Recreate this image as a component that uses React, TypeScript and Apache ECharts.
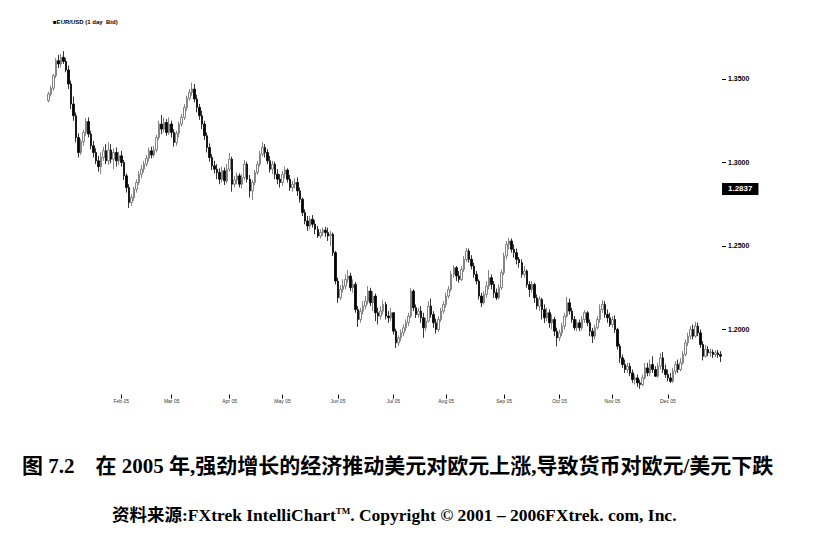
import React, { useEffect, useRef } from "react";
import * as echarts from "echarts";

// Daily EUR/USD bars, values in 1/10000 (13370 = 1.3370): [open, close, low, high]
const dec04 = [[13370,13410,13360,13425],[13410,13445,13395,13460],[13445,13520,13430,13530],[13520,13610,13505,13625],[13610,13590,13565,13645],[13590,13630,13570,13650],[13630,13605,13590,13667],[13605,13554,13540,13625]];
const jan05 = [[13554,13470,13440,13580],[13470,13350,13320,13490],[13350,13280,13250,13395],[13280,13150,13120,13300],[13150,13060,13030,13175],[13060,13125,13045,13140],[13125,13180,13100,13195],[13180,13245,13160,13265],[13245,13170,13150,13270],[13170,13100,13080,13190],[13100,13060,13030,13130],[13060,13010,12990,13085],[13010,12975,12945,13040],[12975,13030,12930,13060],[13030,13070,13010,13095],[13070,13010,12990,13110],[13010,13075,12985,13120],[13075,13020,12995,13110],[13020,13060,12960,13085],[13060,13010,12975,13090],[13010,13040,12985,13065]];
const feb05 = [[13040,13000,12975,13070],[13000,12920,12895,13015],[12920,12850,12820,12935],[12850,12760,12728,12870],[12760,12790,12740,12810],[12790,12840,12770,12855],[12840,12880,12820,12900],[12880,12930,12865,12950],[12930,12960,12905,12985],[12960,12990,12940,13010],[12990,13025,12975,13045],[13025,13070,13005,13090],[13070,13045,13025,13095],[13045,13075,13030,13100],[13075,13150,13060,13165],[13150,13230,13135,13250],[13230,13200,13170,13285],[13200,13240,13180,13270],[13240,13180,13160,13260],[13180,13230,13165,13270]];
const mar05 = [[13230,13180,13150,13250],[13180,13120,13095,13200],[13120,13175,13100,13190],[13175,13230,13150,13245],[13230,13270,13215,13290],[13270,13330,13255,13350],[13330,13385,13310,13400],[13385,13420,13370,13440],[13420,13440,13400,13478],[13440,13380,13360,13470],[13380,13330,13300,13405],[13330,13280,13255,13350],[13280,13230,13200,13310],[13230,13160,13135,13250],[13160,13090,13060,13180],[13090,13030,13005,13115],[13030,12980,12955,13050],[12980,12960,12935,13010],[12960,12940,12900,12990],[12940,12900,12870,12965],[12900,12950,12880,12975],[12950,12890,12865,12970],[12890,12960,12875,12990]];
const apr05 = [[12960,13020,12945,13057],[13020,12870,12825,13035],[12870,12895,12850,12920],[12895,12920,12870,12940],[12920,12870,12850,12935],[12870,12910,12845,12930],[12910,12990,12895,13015],[12990,12900,12880,13005],[12900,12830,12790,12925],[12830,12880,12775,12895],[12880,12940,12865,12955],[12940,12990,12925,13010],[12990,13050,12975,13070],[13050,13090,13035,13123],[13090,13060,13030,13110],[13060,13010,12990,13080],[13010,12960,12940,13040],[12960,12990,12930,13010],[12990,12930,12900,13005],[12930,12900,12870,12960],[12900,12880,12850,12930]];
const may05 = [[12880,12930,12860,12950],[12930,12955,12905,12975],[12955,12900,12880,12965],[12900,12850,12830,12925],[12850,12870,12825,12890],[12870,12880,12845,12905],[12880,12830,12800,12910],[12830,12780,12760,12850],[12780,12700,12680,12790],[12700,12650,12630,12720],[12650,12620,12590,12680],[12620,12660,12600,12680],[12660,12630,12610,12685],[12630,12600,12570,12655],[12600,12560,12548,12620],[12560,12580,12545,12600],[12580,12595,12560,12610],[12595,12580,12555,12614],[12580,12560,12530,12610],[12560,12570,12500,12590],[12570,12460,12440,12580],[12460,12290,12270,12470]];
const jun05 = [[12290,12190,12160,12310],[12190,12240,12175,12265],[12240,12260,12220,12300],[12260,12300,12240,12330],[12300,12320,12280,12356],[12320,12250,12230,12340],[12250,12270,12220,12300],[12270,12120,12100,12285],[12120,12060,12015,12140],[12060,12110,12040,12130],[12110,12140,12090,12170],[12140,12170,12120,12200],[12170,12230,12150,12260],[12230,12160,12140,12250],[12160,12200,12110,12230],[12200,12100,12050,12215],[12100,12080,12030,12130],[12080,12110,12060,12140],[12110,12150,12090,12175],[12150,12080,12060,12165],[12080,12070,12040,12110],[12070,12100,12050,12130]];
const jul05 = [[12100,11990,11970,12105],[11990,11920,11889,12005],[11920,11950,11900,11965],[11950,11980,11930,12000],[11980,12010,11960,12030],[12010,12040,11990,12060],[12040,12080,12020,12100],[12080,12230,12070,12249],[12230,12130,12110,12240],[12130,12090,12069,12150],[12090,12110,12070,12130],[12110,12070,12040,12140],[12070,12010,11950,12100],[12010,12050,11990,12070],[12050,12140,12040,12170],[12140,12090,12070,12185],[12090,12040,12010,12110],[12040,12000,11975,12065],[12000,12060,11985,12080],[12060,12110,12045,12130],[12110,12150,12095,12170]];
const aug05 = [[12150,12200,12130,12220],[12200,12240,12185,12260],[12240,12330,12225,12350],[12330,12370,12310,12385],[12370,12320,12290,12380],[12320,12300,12280,12350],[12300,12360,12290,12380],[12360,12420,12345,12440],[12420,12470,12405,12488],[12470,12420,12400,12485],[12420,12380,12360,12445],[12380,12330,12310,12400],[12330,12290,12270,12350],[12290,12200,12180,12300],[12200,12160,12134,12220],[12160,12210,12150,12230],[12210,12260,12190,12290],[12260,12310,12240,12356],[12310,12270,12240,12330],[12270,12220,12190,12290],[12220,12190,12177,12245],[12190,12250,12180,12270],[12250,12340,12235,12360]];
const sep05 = [[12340,12440,12325,12460],[12440,12510,12420,12530],[12510,12530,12480,12548],[12530,12480,12460,12545],[12480,12460,12430,12510],[12460,12420,12390,12485],[12420,12400,12370,12434],[12400,12330,12310,12420],[12330,12350,12310,12380],[12350,12270,12250,12360],[12270,12240,12195,12290],[12240,12270,12220,12290],[12270,12190,12160,12280],[12190,12140,12120,12210],[12140,12180,12110,12200],[12180,12120,12060,12190],[12120,12070,12039,12150],[12070,12100,12050,12130],[12100,12040,12010,12120],[12040,12060,12000,12090],[12060,11990,11960,12075],[11990,11950,11900,12010]];
const oct05 = [[11950,11980,11930,12000],[11980,12020,11960,12040],[12020,12080,12000,12100],[12080,12160,12070,12195],[12160,12110,12090,12185],[12110,12060,12040,12130],[12060,12010,11995,12080],[12010,12040,11990,12060],[12040,12010,11990,12060],[12010,12060,11995,12080],[12060,12100,12040,12116],[12100,12040,12020,12110],[12040,11990,11960,12060],[11990,11960,11919,12010],[11960,12010,11940,12030],[12010,12060,12000,12080],[12060,12120,12040,12150],[12120,12150,12100,12177],[12150,12090,12070,12170],[12090,12070,12040,12120],[12070,12030,12015,12100]];
const nov05 = [[12030,12060,12010,12080],[12060,12000,11980,12085],[12000,11900,11880,12010],[11900,11830,11800,11915],[11830,11790,11770,11850],[11790,11760,11740,11820],[11760,11780,11740,11800],[11780,11740,11720,11800],[11740,11700,11680,11760],[11700,11710,11670,11730],[11710,11680,11656,11730],[11680,11670,11645,11700],[11670,11710,11660,11730],[11710,11770,11700,11800],[11770,11740,11720,11800],[11740,11790,11720,11820],[11790,11760,11740,11840],[11760,11720,11715,11780],[11720,11780,11710,11800],[11780,11830,11760,11859],[11830,11760,11740,11865],[11760,11730,11710,11790]];
const dec05 = [[11730,11710,11690,11760],[11710,11690,11679,11740],[11690,11750,11680,11770],[11750,11790,11730,11810],[11790,11760,11740,11820],[11760,11800,11750,11830],[11800,11850,11790,11870],[11850,11920,11840,11940],[11920,11960,11900,11980],[11960,12000,11940,12020],[12000,11960,11940,12030],[11960,12020,11950,12046],[12020,11980,11960,12040],[11980,11910,11890,12000],[11910,11840,11815,11930],[11840,11880,11830,11907],[11880,11860,11840,11900],[11860,11865,11835,11885],[11865,11850,11830,11880],[11850,11860,11835,11875],[11860,11850,11830,11877],[11850,11840,11805,11870]];

const monthBars = [dec04, jan05, feb05, mar05, apr05, may05, jun05, jul05, aug05, sep05, oct05, nov05, dec05];
const monthLabels = ["Dec 04", "Jan 05", "Feb 05", "Mar 05", "Apr 05", "May 05", "Jun 05", "Jul 05", "Aug 05", "Sep 05", "Oct 05", "Nov 05", "Dec 05"];
const firstTickedMonth = 2;
const priceTicks = [1.2, 1.25, 1.3, 1.35];
const currentPrice = 1.2837;
const chartTitle = "■EUR/USD (1 day  Bid)";
const captionLine1 = "图 7.2    在 2005 年,强劲增长的经济推动美元对欧元上涨,导致货币对欧元/美元下跌";
const captionLine2a = "资料来源:FXtrek IntelliChart";
const captionLine2b = "TM";
const captionLine2c = ". Copyright © 2001 – 2006FXtrek. com, Inc.";

export default function App() {
  const ref = useRef<HTMLDivElement>(null);
  useEffect(() => {
    if (!ref.current) return;
    const chart = echarts.init(ref.current, null, { renderer: "svg" });
    const categories: string[] = [];
    const data: number[][] = [];
    monthBars.forEach((bars, m) => {
      bars.forEach((b, d) => {
        categories.push(monthLabels[m] + "#" + d);
        data.push(b.map((v) => v / 10000));
      });
    });
    const isTick = (_i: number, val: string) => {
      const [lab, d] = val.split("#");
      return d === "0" && monthLabels.indexOf(lab) >= firstTickedMonth;
    };
    chart.setOption({
      animation: false,
      backgroundColor: "#fff",
      title: {
        text: chartTitle,
        left: 48,
        top: 14,
        textStyle: { fontSize: 6, fontWeight: "bold", fontFamily: "Liberation Sans", color: "#000" },
      },
      grid: { left: 47, right: 101, top: 45.6, bottom: 141.4 },
      xAxis: {
        type: "category",
        data: categories,
        boundaryGap: true,
        axisLine: { show: false },
        axisTick: { show: true, interval: isTick, alignWithLabel: true, length: 4, lineStyle: { color: "#000", width: 1 } },
        axisLabel: {
          interval: isTick,
          formatter: (v: string) => v.split("#")[0],
          fontSize: 5,
          color: "#333",
          margin: 4,
          fontFamily: "Liberation Sans",
        },
        splitLine: { show: false },
      },
      yAxis: {
        type: "value",
        position: "right",
        min: 1.161,
        max: 1.37,
        scale: true,
        axisLine: { show: false },
        axisTick: { show: true, length: 4, customValues: priceTicks, lineStyle: { color: "#000" } },
        axisLabel: {
          customValues: priceTicks,
          formatter: (v: number) => v.toFixed(4),
          fontSize: 7,
          fontWeight: "bold",
          fontFamily: "Liberation Sans",
          color: "#000",
          margin: 6,
        },
        splitLine: { show: false },
      },
      series: [
        {
          type: "candlestick",
          data,
          barWidth: 2,
          itemStyle: { color: "#fff", color0: "#000", borderColor: "#666", borderColor0: "#000", borderWidth: 0.8 },
          markLine: {
            silent: true,
            symbol: "none",
            data: [{ yAxis: currentPrice }],
            lineStyle: { color: "rgba(0,0,0,0)", width: 0, type: "solid" },
            label: {
              show: true,
              position: "end",
              formatter: currentPrice.toFixed(4),
              backgroundColor: "#000",
              color: "#fff",
              opacity: 1,
              fontSize: 8,
              fontWeight: "bold",
              fontFamily: "Liberation Sans",
              verticalAlign: "middle",
              padding: [2, 6],
              distance: 0,
              offset: [0, -7],
            },
          },
        },
      ],
      graphic: [
        {
          type: "text",
          x: 22,
          y: 466,
          style: {
            text: captionLine1,
            fontSize: 21,
            fontWeight: "bold",
            fontFamily: "'Liberation Serif','Noto Sans CJK SC'",
            fill: "#000",
            align: "left",
            verticalAlign: "middle",
          },
        },
        {
          type: "text",
          x: 112,
          y: 515,
          style: {
            text: "{a|" + captionLine2a + "}{b|" + captionLine2b + "}{a|" + captionLine2c + "}",
            fill: "#000",
            align: "left",
            verticalAlign: "middle",
            rich: {
              a: { fontSize: 17.5, fontWeight: "bold", fontFamily: "'Liberation Serif','Noto Sans CJK SC'", fill: "#000" },
              b: { fontSize: 9, fontWeight: "bold", fontFamily: "'Liberation Serif'", fill: "#000", verticalAlign: "top", padding: [0, 0, 8, 0] },
            },
          },
        },
      ],
    });
    return () => chart.dispose();
  }, []);
  return (
    <div
      ref={ref}
      style={{ position: "absolute", left: 0, top: 0, width: 823, height: 536, background: "#fff" }}
    />
  );
}
